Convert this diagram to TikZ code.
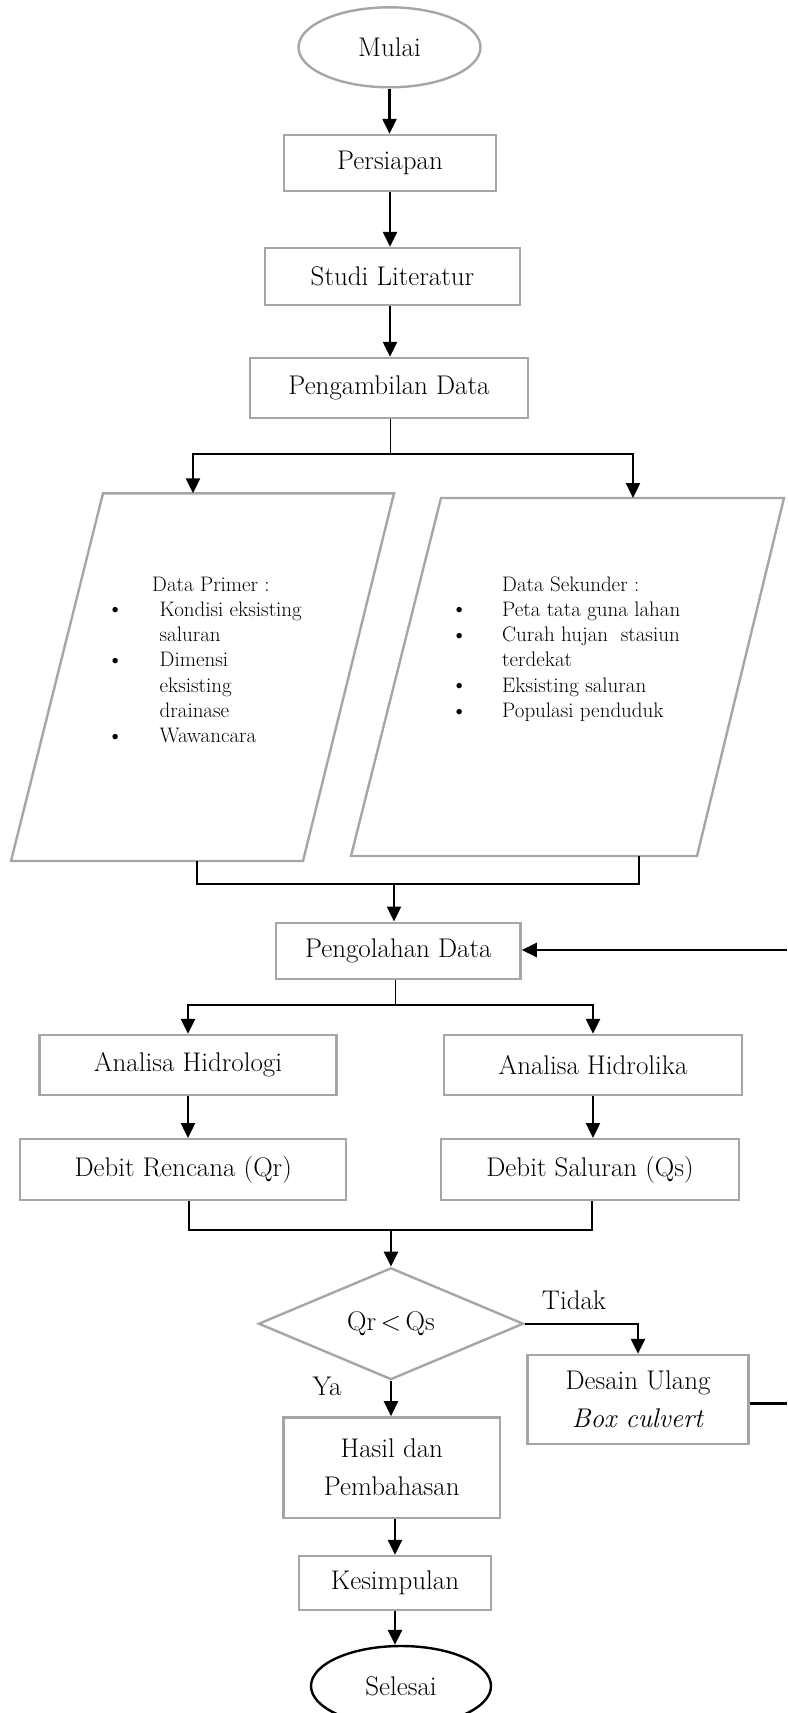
\documentclass[tikz,border=0pt]{standalone}
\usetikzlibrary{shapes.geometric,arrows.meta}
\definecolor{boxgray}{RGB}{166,166,166}
\newcommand\mainfs{\fontsize{27}{38}\selectfont}
\newcommand\listfs{\fontsize{21}{25.3}\selectfont}
\newcommand\bul{\makebox[0pt]{\raisebox{-0.5pt}{\fontsize{24}{25}\selectfont\textbullet}}}
\tikzset{
  gbox/.style={draw=boxgray, line width=2.4pt, rectangle, inner sep=0pt, font=\mainfs, align=center},
  goval/.style={ellipse, line width=2.4pt, inner sep=0pt, font=\mainfs},
  arr/.style={line width=2.4pt, -{Triangle[length=15pt,width=14pt]}},
  thinline/.style={line width=1.2pt},
  medline/.style={line width=2pt},
  thickline/.style={line width=2.4pt},
  para/.style={draw=boxgray, line width=2.4pt, line join=miter},
  lbl/.style={font=\mainfs, inner sep=0pt},
  listtext/.style={font=\listfs, inner sep=0pt, anchor=base west},
}
\begin{document}
\begin{tikzpicture}[x=1pt,y=-1pt]
\useasboundingbox (0,0) rectangle (787,1713);

% top chain
\node[goval, draw=boxgray, minimum width=182pt, minimum height=80pt] (mulai) at (389.5,47.3) {Mulai};
\node[gbox, minimum width=212pt, minimum height=56pt] (persiapan) at (390,163) {Persiapan};
\node[gbox, minimum width=255pt, minimum height=57pt] (studi) at (392.5,276.5) {Studi Literatur};
\node[gbox, minimum width=278pt, minimum height=60pt] (ambil) at (389,388) {Pengambilan Data};

\draw[arr] (mulai.south) -- (mulai.south |- persiapan.north);
\draw[arr] (persiapan.south) -- (persiapan.south |- studi.north);
\draw[arr] (persiapan.south |- studi.south) -- (persiapan.south |- ambil.north);

% parallelograms
\coordinate (L1) at (103,493.3);
\coordinate (L2) at (394,493.3);
\coordinate (L3) at (303,861);
\coordinate (L4) at (11,861);
\coordinate (Ltop) at (193,493.3);
\coordinate (Lbot) at (197,861);
\coordinate (R1) at (441,498);
\coordinate (R2) at (784,498);
\coordinate (R3) at (697,856);
\coordinate (R4) at (351,856);
\coordinate (Rtop) at (633,498);
\coordinate (Rbot) at (639,856);
\draw[para] (L1) -- (L2) -- (L3) -- (L4) -- cycle;
\draw[para] (R1) -- (R2) -- (R3) -- (R4) -- cycle;

\node[listtext] (primer) at (115,591) {\begin{tabular}[t]{@{}p{44.5pt}@{}l@{}}
\multicolumn{2}{@{}l@{}}{\hspace*{37pt}Data Primer :}\\
\bul & Kondisi eksisting\\
 & saluran\\
\bul & Dimensi\\
 & eksisting\\
 & drainase\\
\bul & Wawancara
\end{tabular}};
\node[listtext] (sekunder) at (459,591) {\begin{tabular}[t]{@{}p{43pt}@{}l@{}}
\multicolumn{2}{@{}l@{}}{\hspace*{43pt}Data Sekunder :}\\
\bul & Peta tata guna lahan\\
\bul & Curah hujan\ \ stasiun\\
 & terdekat\\
\bul & Eksisting saluran\\
\bul & Populasi penduduk
\end{tabular}};

% split 1
\coordinate (s1) at (390.7,454);
\draw[thinline] (s1 |- ambil.south) -- (s1);
\draw[arr] (s1) -| (Ltop);
\draw[arr] (s1) -| (Rtop);

% merge 1
\node[gbox, minimum width=244.6pt, minimum height=56pt] (olah) at (398.3,950.7) {Pengolahan Data};
\coordinate (m1) at (394,884);
\draw[thinline] (Lbot) |- (m1) -| (Rbot);
\draw[arr] (m1) -- (m1 |- olah.north);

% split 2
\node[gbox, minimum width=297pt, minimum height=60pt] (hidrologi) at (188,1065) {Analisa Hidrologi};
\node[gbox, minimum width=298pt, minimum height=60pt] (hidrolika) at (593,1065) {Analisa Hidrolika};
\coordinate (s2) at (395.7,1005);
\draw[thinline] (s2 |- olah.south) -- (s2);
\draw[arr] (s2) -| (hidrologi.north);
\draw[arr] (s2) -| (hidrolika.north);

\node[gbox, minimum width=326pt, minimum height=61pt] (qr) at (183.2,1169.7) {Debit Rencana (Qr)};
\node[gbox, minimum width=298pt, minimum height=61pt] (qs) at (590,1169.7) {Debit Saluran (Qs)};
\draw[arr] (hidrologi.south) -- (hidrologi.south |- qr.north);
\draw[arr] (hidrolika.south) -- (hidrolika.south |- qs.north);

% merge 2 and decision
\node[diamond, draw=boxgray, line width=2.4pt, inner sep=0pt, minimum width=265pt, minimum height=106pt, font=\mainfs] (cek) at (391,1323.7) {\raisebox{-5pt}{Qr\,\textless\,Qs}};
\coordinate (m2) at (391,1230);
\draw[medline] ([xshift=5.8pt]qr.south) |- (m2) -| ([xshift=1.7pt]qs.south);
\draw[arr] (m2) -- (cek.north);

\node[gbox, minimum width=220.7pt, minimum height=89pt] (desain) at (638,1399.5) {Desain Ulang\\\textit{Box culvert}};
\draw[arr] (cek.east) -| (desain.north);
\node[lbl] (tidak) at (574,1300) {Tidak};

% feedback (vertical part lies outside the picture)
\coordinate (e1) at (787,1403.3);
\coordinate (e2) at (787,950);
\draw[thickline] (e1 -| desain.east) -- (e1);
\draw[arr] (e2) -- (e2 -| olah.east);

% yes branch
\node[gbox, minimum width=216.4pt, minimum height=100.7pt] (hasil) at (391.8,1467.7) {Hasil dan\\Pembahasan};
\node[lbl] (ya) at (327,1386) {Ya};
\draw[arr] (cek.south) -- (cek.south |- hasil.north);
\node[gbox, minimum width=192pt, minimum height=54pt] (kesimpulan) at (395,1583) {Kesimpulan};
\draw[arr] (kesimpulan.north |- hasil.south) -- (kesimpulan.north);
\node[goval, draw=black, minimum width=180pt, minimum height=80pt] (selesai) at (401,1686) {Selesai};
\draw[arr] (kesimpulan.south) -- (kesimpulan.south |- selesai.north);
\end{tikzpicture}
\end{document}
